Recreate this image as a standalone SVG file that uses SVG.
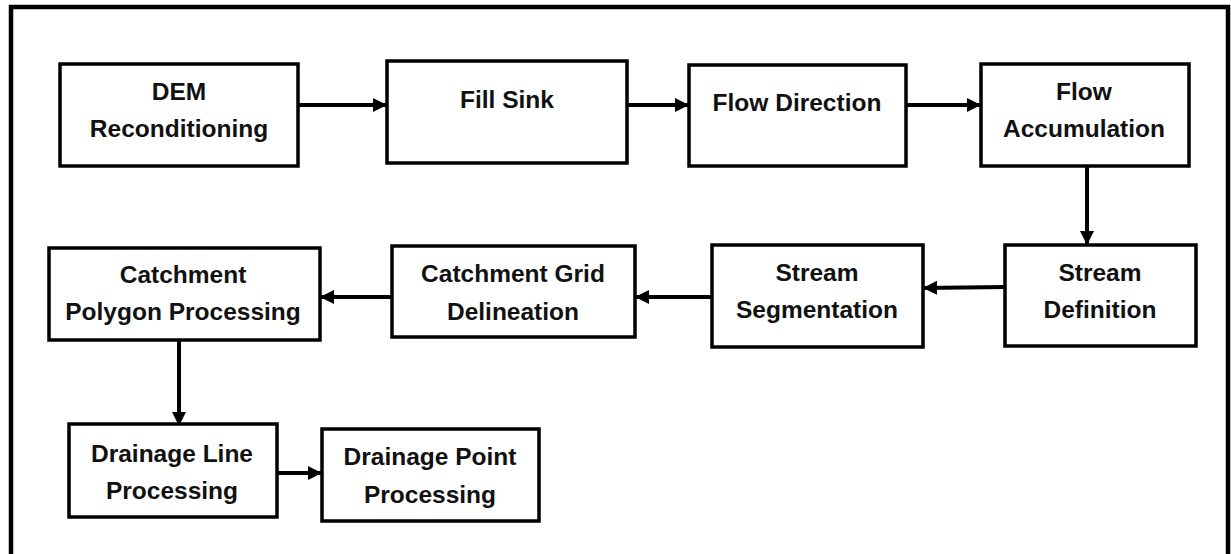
<svg xmlns="http://www.w3.org/2000/svg" width="1231" height="554" viewBox="0 0 1231 554">
<style>
.box{fill:#fff;stroke:#000;stroke-width:3.5}
.lbl{font-family:"Liberation Sans",Arial,sans-serif;font-weight:bold;font-size:24.5px;fill:#111;text-anchor:middle}
.con{stroke:#000;stroke-width:4;fill:none;marker-end:url(#ah)}
</style>
<defs>
<marker id="ah" markerUnits="userSpaceOnUse" markerWidth="15" markerHeight="15" refX="14" refY="7" orient="auto" viewBox="0 0 15 14">
<path d="M0,0 L14,7 L0,14 z" fill="#000"/>
</marker>
</defs>
<rect x="0" y="0" width="1231" height="554" fill="#fff"/>
<rect id="frame" x="11" y="7" width="1217" height="560" fill="none" stroke="#000" stroke-width="4.5"/>
<g id="connectors">
<line class="con" x1="298" y1="105" x2="387" y2="105"/>
<line class="con" x1="627" y1="105" x2="689" y2="105"/>
<line class="con" x1="906" y1="105" x2="981" y2="105"/>
<line class="con" x1="1087" y1="166" x2="1087" y2="245"/>
<line class="con" x1="1005" y1="287" x2="923" y2="288"/>
<line class="con" x1="712" y1="297" x2="635" y2="297"/>
<line class="con" x1="392" y1="297" x2="320" y2="297"/>
<line class="con" x1="179" y1="340" x2="179" y2="426"/>
<line class="con" x1="277" y1="473" x2="322" y2="473"/>
</g>
<g id="n-dem">
<rect class="box" x="60" y="64" width="238" height="102"/>
<text class="lbl" x="179" y="100">DEM</text>
<text class="lbl" x="179" y="137">Reconditioning</text>
</g>
<g id="n-fill">
<rect class="box" x="387" y="61" width="240" height="102"/>
<text class="lbl" x="507" y="108">Fill Sink</text>
</g>
<g id="n-flowdir">
<rect class="box" x="689" y="65" width="217" height="101"/>
<text class="lbl" x="797" y="111">Flow Direction</text>
</g>
<g id="n-flowacc">
<rect class="box" x="981" y="64" width="208" height="102"/>
<text class="lbl" x="1084" y="100">Flow</text>
<text class="lbl" x="1084" y="137">Accumulation</text>
</g>
<g id="n-streamdef">
<rect class="box" x="1005" y="245" width="191" height="101"/>
<text class="lbl" x="1100" y="281">Stream</text>
<text class="lbl" x="1100" y="318">Definition</text>
</g>
<g id="n-streamseg">
<rect class="box" x="712" y="245" width="211" height="102"/>
<text class="lbl" x="817" y="281">Stream</text>
<text class="lbl" x="817" y="318">Segmentation</text>
</g>
<g id="n-catchgrid">
<rect class="box" x="392" y="246" width="243" height="91"/>
<text class="lbl" x="513" y="282">Catchment Grid</text>
<text class="lbl" x="513" y="320">Delineation</text>
</g>
<g id="n-catchpoly">
<rect class="box" x="49" y="248" width="271" height="92"/>
<text class="lbl" x="183" y="283">Catchment</text>
<text class="lbl" x="183" y="320">Polygon Processing</text>
</g>
<g id="n-drainline">
<rect class="box" x="69" y="424" width="208" height="93"/>
<text class="lbl" x="172" y="462">Drainage Line</text>
<text class="lbl" x="172" y="499">Processing</text>
</g>
<g id="n-drainpoint">
<rect class="box" x="322" y="429" width="217" height="92"/>
<text class="lbl" x="430" y="465">Drainage Point</text>
<text class="lbl" x="430" y="503">Processing</text>
</g>
</svg>
